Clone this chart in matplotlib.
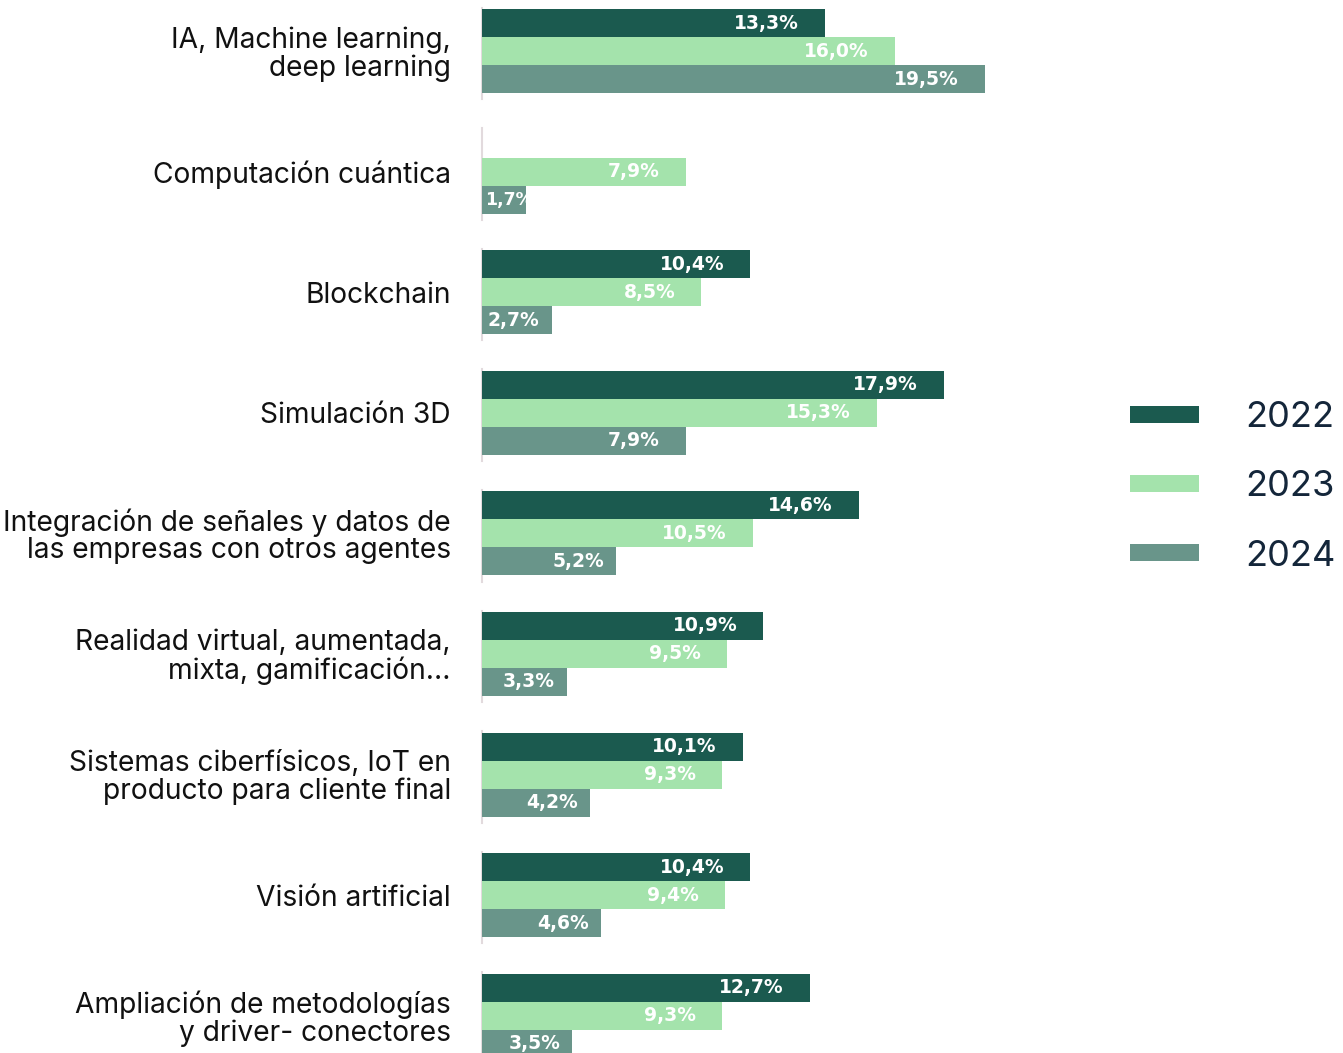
import numpy as np
import matplotlib
matplotlib.use('Agg')
import matplotlib.pyplot as plt
from matplotlib.patches import Patch

categories = ['IA, Machine learning,\ndeep learning',
              'Computación cuántica',
              'Blockchain',
              'Simulación 3D',
              'Integración de señales y datos de\nlas empresas con otros agentes',
              'Realidad virtual, aumentada,\nmixta, gamificación...',
              'Sistemas ciberfísicos, IoT en\nproducto para cliente final',
              'Visión artificial',
              'Ampliación de metodologías\ny driver- conectores']
years = ['2022', '2023', '2024']
v2022 = [13.3, np.nan, 10.4, 17.9, 14.6, 10.9, 10.1, 10.4, 12.7]
v2023 = [16.0, 7.9, 8.5, 15.3, 10.5, 9.5, 9.3, 9.4, 9.3]
v2024 = [19.5, 1.7, 2.7, 7.9, 5.2, 3.3, 4.2, 4.6, 3.5]
colors = ['#1b5a4f', '#a4e3ac', '#69958a']

W, H = 1343, 1053
fig = plt.figure(figsize=(W / 100, H / 100), dpi=100)
px_per_unit = 25.8
x0 = 480
ax = fig.add_axes([x0 / W, 0, (1100 - x0) / W, 1])
xmin = -2 / px_per_unit
ax.set_xlim(xmin, xmin + (1100 - x0) / px_per_unit)

gap = 120.6
first = 51
ax.set_ylim((H - first) / gap, -first / gap)

y = np.arange(len(categories))
bh = 28 / gap
series = [v2022, v2023, v2024]
for k, vals in enumerate(series):
    pos = y + (k - 1) * bh
    vals = np.array(vals)
    ok = ~np.isnan(vals)
    ax.barh(pos[ok], vals[ok], height=bh, color=colors[k], zorder=3)
    for p, v in zip(pos[ok], vals[ok]):
        txt = f'{v:.1f}%'.replace('.', ',')
        if v < 2:
            ax.annotate(txt, (0, p), xytext=(3, 0), textcoords='offset pixels',
                        ha='left', va='center', color='white', fontsize=12.5,
                        fontweight='bold', zorder=4)
        else:
            off = -26 if v >= 6 else -12
            ax.annotate(txt, (v, p), xytext=(off, 0), textcoords='offset pixels',
                        ha='right', va='center', color='white', fontsize=13.5,
                        fontweight='bold', zorder=4)

# thin axis segments per group
for yi in y:
    ax.plot([0, 0], [yi - 0.36, yi + 0.40], color='#e2dadd', lw=1.5, zorder=1)

ax.set_yticks(y)
ax.set_yticklabels(categories, fontsize=20.3, family='Inter', color='#111111',
                   linespacing=1.0)
ax.tick_params(axis='y', length=0, pad=21)
ax.tick_params(axis='x', bottom=False, labelbottom=False)
for s in ax.spines.values():
    s.set_visible(False)

handles = [Patch(facecolor=c, edgecolor='none') for c in colors]
leg = fig.legend(handles, years, loc='center left', bbox_to_anchor=(1130 / W, 1 - 487 / H),
                 frameon=False, handlelength=1.9, handleheight=0.32, borderpad=0,
                 borderaxespad=0, handletextpad=1.3, labelspacing=1.0,
                 prop={'family': 'Inter', 'size': 26})
for t in leg.get_texts():
    t.set_color('#14263a')

fig.savefig('out.png', dpi=100)
